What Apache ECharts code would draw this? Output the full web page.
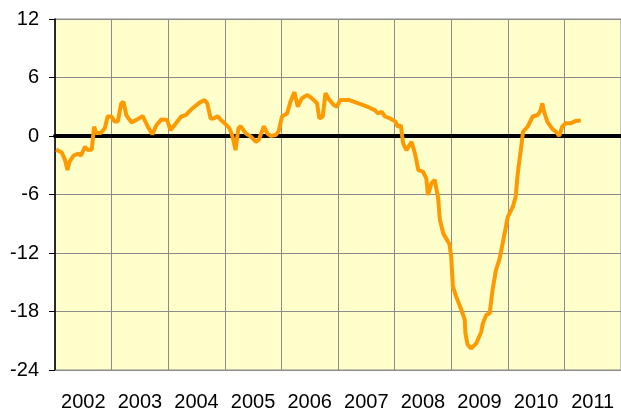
<!DOCTYPE html>
<html>
<head>
<meta charset="utf-8">
<script src="https://cdn.jsdelivr.net/npm/echarts@6/dist/echarts.min.js"></script>
<style>
  html, body { margin: 0; padding: 0; background: #fff; }
  #chart { width: 621px; height: 414px; }
</style>
</head>
<body>
<div id="chart"></div>
<script>
// year labels under the plot
const years = ['2002', '2003', '2004', '2005', '2006', '2007', '2008', '2009', '2010', '2011'];
const yTicks = [-24, -18, -12, -6, 0, 6, 12];

// time positions (decimal year) and index values
const dates = [
  2002.02, 2002.12, 2002.18, 2002.22, 2002.26, 2002.33, 2002.41, 2002.46, 2002.53, 2002.57, 2002.65, 2002.69, 2002.73, 2002.81, 2002.88, 2002.93,
  2003.00, 2003.05, 2003.11, 2003.17, 2003.21, 2003.26, 2003.35, 2003.44, 2003.55, 2003.64, 2003.72, 2003.79, 2003.88, 2003.98,
  2004.04, 2004.11, 2004.23, 2004.31, 2004.43, 2004.55, 2004.64, 2004.69, 2004.75, 2004.81, 2004.87, 2004.93, 2004.99,
  2005.08, 2005.13, 2005.19, 2005.24, 2005.28, 2005.37, 2005.46, 2005.55, 2005.60, 2005.69, 2005.75, 2005.81, 2005.90, 2005.95,
  2006.01, 2006.10, 2006.16, 2006.23, 2006.29, 2006.36, 2006.45, 2006.51, 2006.57, 2006.63, 2006.67, 2006.73, 2006.78, 2006.83, 2006.92, 2006.98,
  2007.04, 2007.19, 2007.36, 2007.54, 2007.65, 2007.71, 2007.77, 2007.83, 2007.92,
  2008.01, 2008.06, 2008.11, 2008.15, 2008.21, 2008.30, 2008.36, 2008.42, 2008.50, 2008.56, 2008.59, 2008.65, 2008.71, 2008.77, 2008.80, 2008.86, 2008.91, 2008.97,
  2009.00, 2009.03, 2009.09, 2009.18, 2009.24, 2009.25, 2009.29, 2009.35, 2009.44, 2009.53, 2009.56, 2009.62, 2009.68, 2009.73, 2009.79, 2009.85, 2009.91, 2009.96,
  2010.00, 2010.09, 2010.14, 2010.17, 2010.19, 2010.23, 2010.27, 2010.35, 2010.44, 2010.53, 2010.58, 2010.61, 2010.64, 2010.70, 2010.79, 2010.85, 2010.91, 2010.96,
  2011.02, 2011.11, 2011.20, 2011.29
];
const values = [
  -1.4, -1.7, -2.5, -3.5, -2.6, -2.0, -1.8, -2.0, -1.1, -1.4, -1.4, 0.95, 0.3, 0.3, 0.8, 2.0,
  2.0, 1.5, 1.5, 3.35, 3.5, 2.15, 1.4, 1.65, 2.05, 0.95, 0.17, 1.1, 1.7, 1.65,
  0.6, 1.1, 2.0, 2.15, 2.85, 3.4, 3.7, 3.35, 1.8, 1.8, 2.05, 1.65, 1.35,
  0.8, 0.1, -1.45, 0.8, 1.0, 0.27, -0.07, -0.6, -0.4, 1.0, 0.27, 0, 0.1, 0.45,
  2.0, 2.3, 3.5, 4.5, 3.0, 3.85, 4.2, 4.0, 3.7, 3.35, 1.8, 2.0, 4.4, 3.85, 3.2, 3.0,
  3.7, 3.7, 3.35, 2.95, 2.65, 2.3, 2.5, 2.0, 1.8,
  1.5, 0.95, 1.1, -0.75, -1.45, -0.6, -1.8, -3.5, -3.65, -4.35, -6.05, -4.85, -4.5, -6.4, -8.6, -10.0, -10.5, -11.1,
  -12.4, -15.45, -16.5, -17.85, -18.85, -20.2, -21.4, -21.8, -21.3, -20.1, -19.2, -18.35, -18.2, -15.8, -13.75, -12.7, -11.0, -9.5,
  -8.3, -7.25, -6.2, -4.2, -3.15, -1.45, 0.45, 0.95, 2.0, 2.15, 2.65, 3.35, 2.5, 1.45, 0.7, 0.45, 0, 0.95,
  1.3, 1.3, 1.55, 1.6
];

const font = '"Liberation Sans", Arial, sans-serif';
const gridColor = '#8c8c8c';

let option = {
  animation: false,
  grid: {
    left: 55, top: 19, bottom: 44, right: -3,
    show: true,
    backgroundColor: '#FFFFCC',
    borderColor: gridColor,
    borderWidth: 1
  },
  xAxis: [
    {
      // labels, centred on each year
      type: 'category',
      position: 'bottom',
      data: years,
      boundaryGap: true,
      axisLine: { onZero: false, lineStyle: { color: gridColor, width: 1 } },
      axisTick: { show: false },
      splitLine: { show: false },
      axisLabel: { color: '#000', fontSize: 20, fontFamily: font, margin: 22, interval: 0 }
    },
    {
      // time scale for the line, draws the year gridlines and the zero line
      type: 'value',
      position: 'top',
      min: 2002,
      max: 2012,
      interval: 1,
      axisLine: { onZero: true, lineStyle: { color: '#000', width: 4 } },
      axisTick: { show: false },
      axisLabel: { show: false },
      splitLine: { show: true, lineStyle: { color: gridColor, width: 1 } }
    }
  ],
  yAxis: {
    type: 'value',
    min: yTicks[0],
    max: yTicks[yTicks.length - 1],
    interval: 6,
    axisLine: { show: true, onZero: false, lineStyle: { color: '#000', width: 1.5 } },
    axisTick: { show: true, length: 6, lineStyle: { color: '#000', width: 1 } },
    axisLabel: { color: '#000', fontSize: 20, fontFamily: font, margin: 16 },
    splitLine: { show: true, lineStyle: { color: gridColor, width: 1 } }
  },
  series: [
    {
      type: 'line',
      xAxisIndex: 1,
      data: dates.map((d, i) => [d, values[i]]),
      showSymbol: false,
      lineStyle: { color: '#FF9900', width: 4 },
      z: 5
    }
  ]
};

const myChart = echarts.init(document.getElementById('chart'));
myChart.setOption(option);
</script>
</body>
</html>
